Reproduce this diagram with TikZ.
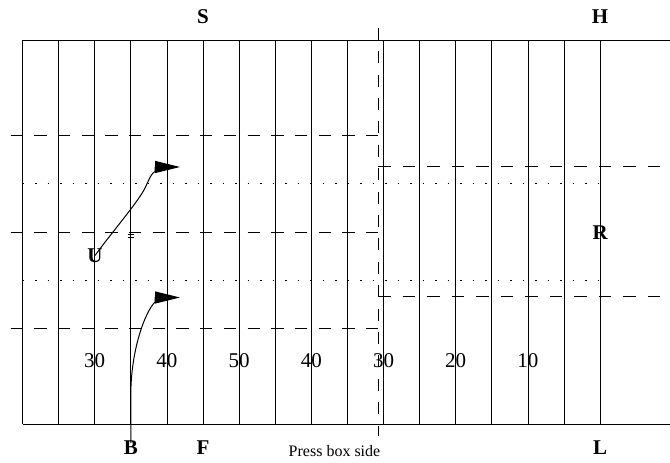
\documentclass[tikz,border=0pt]{standalone}
\usepackage{fontspec}
\setmainfont{Liberation Serif}
\usetikzlibrary{arrows.meta,positioning}
\tikzset{
  every picture/.style={line width=0.8pt, line cap=butt},
  % Linientypen
  yard/.style={line width=0.8pt},
  lane/.style={line width=0.8pt, dash pattern=on 12.3pt off 11.4pt},
  lanerx/.style={line width=0.8pt, dash pattern=on 12.3pt off 12.2pt},
  midline/.style={line width=0.8pt, dash pattern=on 12pt off 11.4pt},
  hashrow/.style={line width=1pt, dash pattern=on 1.5pt off 11pt},
  route/.style={line width=1pt, -{Triangle[length=25pt,width=12pt]}},
  % Beschriftung
  player/.style={inner sep=0pt, font=\fontsize{21}{21}\selectfont\bfseries},
  yardnum/.style={inner sep=0pt, font=\fontsize{21}{21}\selectfont},
  side/.style={inner sep=0pt, font=\fontsize{16}{16}\selectfont},
}

\begin{document}
\begin{tikzpicture}[x=1pt, y=-1pt]
  \useasboundingbox (0,0) rectangle (670,463);
  \def\xo{22.5} \def\dx{36.1} \def\top{40} \def\bot{424} \def\mid{378.3}
  % Spielfeld
  \draw[yard] (\xo,\top) -- (670,\top) (\xo,\bot) -- (670,\bot);
  \foreach \i in {0,...,16}
    \draw[yard] ({\xo+\dx*\i},\top) -- ({\xo+\dx*\i},\bot);
  \foreach \y in {135.7,232.3,328.3}
    \draw[lane] (10.5,\y) -- (\mid,\y);
  \foreach \y in {166.7,296.7}
    \draw[lanerx] (\mid,\y) -- (660,\y);
  \foreach \y in {183.5,280.5}
    \draw[hashrow] (\xo,\y) -- (600.5,\y);
  \draw[midline] (\mid,27.7) -- (\mid,436);
  \draw[yard, line width=0.6pt] (127.5,234.6) -- (134,234.6) (127.5,237) -- (134,237);
  % Yard-Zahlen
  \foreach \i/\n [count=\k] in {2/30,4/40,6/50,8/40,10/30,12/20,14/10}
    \node[yardnum] (n\k) at ({\xo+\dx*\i},361) {\n};
  % Spieler und Seiten
  \node[player] (S) at ({\xo+\dx*5},17) {S};
  \node[player] (H) at ({\xo+\dx*16},17) {H};
  \node[player] (B) at ({\xo+\dx*3},447.5) {B};
  \node[player] (F) at ({\xo+\dx*5},447.5) {F};
  \node[player] (L) at ({\xo+\dx*16},448) {L};
  \node[player] (R) at ({\xo+\dx*16},232.5) {R};
  \node[player] (U) at (95,255.5) {U};
  \node[side] (press) at (334.5,451) {Press box side};
  % Laufwege
  \coordinate (uflag) at (155,167);
  \coordinate (utip) at (180,167);
  \coordinate (bflag) at (155,297.5);
  \coordinate (btip) at (180,297.5);
  \draw[route] (U.center) .. controls (112,232) and (140,200) .. (146,186) .. controls (150,177) and (152,173) .. (155,171.5) -- (uflag) -- (utip);
  \draw[route] ([yshift=-3pt]B.north) -- ++(0,-48) .. controls +(0,-45) and (145,312) .. (155,302) -- (bflag) -- (btip);
\end{tikzpicture}
\end{document}
